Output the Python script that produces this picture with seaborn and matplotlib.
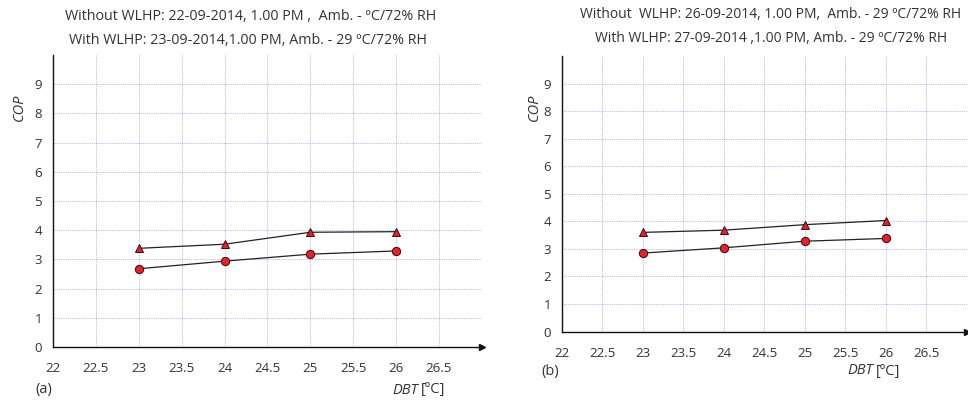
import numpy as np
import seaborn as sns
import matplotlib.pyplot as plt

# data
dbt = [23, 24, 25, 26]
cop_a_with = [3.38, 3.52, 3.93, 3.95]
cop_a_without = [2.68, 2.94, 3.18, 3.29]
cop_b_with = [3.6, 3.68, 3.88, 4.03]
cop_b_without = [2.85, 3.04, 3.28, 3.38]

xticks = [22, 22.5, 23, 23.5, 24, 24.5, 25, 25.5, 26, 26.5]
xtick_labels = ["22", "22.5", "23", "23.5", "24", "24.5", "25", "25.5", "26", "26.5"]
yticks = list(range(10))

titles_a = ["Without WLHP: 22-09-2014, 1.00 PM ,  Amb. - ºC/72% RH",
            "With WLHP: 23-09-2014,1.00 PM, Amb. - 29 ºC/72% RH"]
titles_b = ["Without  WLHP: 26-09-2014, 1.00 PM,  Amb. - 29 ºC/72% RH",
            "With WLHP: 27-09-2014 ,1.00 PM, Amb. - 29 ºC/72% RH"]

sns.set_style("white")
plt.rcParams["font.family"] = ["Open Sans", "DejaVu Sans"]
txt_col = "#333333"
red = "#e3222b"

fig = plt.figure(figsize=(9.68, 4.01), dpi=100)
ax_a = fig.add_axes([0.0548, 0.1347, 0.443, 0.728])
ax_b = fig.add_axes([0.5806, 0.173, 0.418, 0.6875])


def draw(ax, upper, lower):
    for vals, mk in [(upper, "^"), (lower, "o")]:
        sns.lineplot(x=dbt, y=vals, ax=ax, color="#222222", linewidth=0.9,
                     marker=mk, markersize=6 if mk == "o" else 6,
                     markerfacecolor=red, markeredgecolor="#3a0a0a",
                     markeredgewidth=0.7, zorder=3)
    ax.set_xlim(22, 27)
    ax.set_ylim(0, 10)
    ax.set_xticks(xticks)
    ax.set_xticklabels(xtick_labels)
    ax.set_yticks(yticks)
    ax.grid(True, linestyle=(0, (1, 1.2)), color="#a4a4e6", linewidth=0.6)
    for s in ["top", "right"]:
        ax.spines[s].set_visible(False)
    for s in ["left", "bottom"]:
        ax.spines[s].set_color("#111111")
        ax.spines[s].set_linewidth(1.0)
    ax.tick_params(axis="both", direction="out", length=5, width=1,
                   color="#111111", labelsize=9.5, labelcolor=txt_col, pad=6)
    ax.tick_params(axis="y", pad=3)
    ax.set_xlabel("")
    ax.set_ylabel("")
    # axis arrows
    ax.plot(1, 0, ">", color="#111111", ms=4, transform=ax.get_yaxis_transform(),
            clip_on=False)
    ax.plot(0, 1, "^", color="#111111", ms=4, transform=ax.get_xaxis_transform(),
            clip_on=False)


draw(ax_a, cop_a_with, cop_a_without)
draw(ax_b, cop_b_with, cop_b_without)

# headers
fs = 10.3
fig.text(251 / 968, 1 - 17 / 401, titles_a[0], ha="center", va="center",
         fontsize=fs, color=txt_col)
fig.text(248 / 968, 1 - 40 / 401, titles_a[1], ha="center", va="center",
         fontsize=fs, color=txt_col)
fig.text(771 / 968, 1 - 15 / 401, titles_b[0], ha="center", va="center",
         fontsize=fs * 0.97, color=txt_col)
fig.text(771 / 968, 1 - 38 / 401, titles_b[1], ha="center", va="center",
         fontsize=fs * 0.97, color=txt_col)

# COP labels
fig.text(19 / 968, 1 - 107 / 401, "COP", rotation=90, style="italic",
         ha="center", va="center", fontsize=10.5, color=txt_col)
fig.text(534 / 968, 1 - 107 / 401, "COP", rotation=90, style="italic",
         ha="center", va="center", fontsize=10.5, color=txt_col)

# DBT labels
for x0, y0 in [(392, 390), (847, 371)]:
    fig.text(x0 / 968, 1 - y0 / 401, "DBT", style="italic", ha="left",
             va="center", fontsize=10.5, color=txt_col)
    fig.text((x0 + 29) / 968, 1 - y0 / 401, "[ºC]", ha="left", va="center",
             fontsize=10.5, color=txt_col)

fig.text(35 / 968, 1 - 390 / 401, "(a)", ha="left", va="center", fontsize=10.5,
         color=txt_col)
fig.text(541 / 968, 1 - 371 / 401, "(b)", ha="left", va="center", fontsize=10.5,
         color=txt_col)

fig.savefig("out.png", dpi=100)
